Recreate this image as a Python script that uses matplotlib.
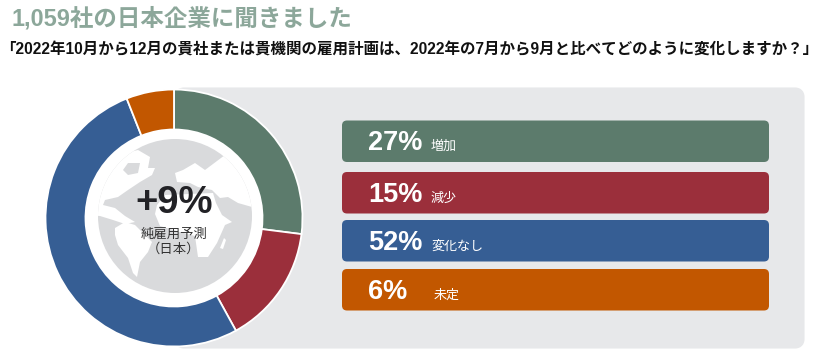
import matplotlib
matplotlib.use('Agg')
import matplotlib.pyplot as plt
from matplotlib.patches import FancyBboxPatch, Circle, Polygon

fonte = ['Liberation Sans', 'Noto Sans CJK JP', 'DejaVu Sans']
plt.rcParams['font.family'] = fonte

# dados
categorias = ['増加', '減少', '変化なし', '未定']
valores = [27, 15, 52, 6]
rotulos = ['27%', '15%', '52%', '6%']
cores = ['#5c7b6c', '#9b2f3b', '#365e94', '#c25700']

titulo = '1,059社の日本企業に聞きました'
pergunta = '「2022年10月から12月の貴社または貴機関の雇用計画は、2022年の7月から9月と比べてどのように変化しますか\uff1f」'
centro_valor = '+9%'
centro_linhas = ['純雇用予測', '\uff08日本\uff09']

W, H = 820, 355
fig = plt.figure(figsize=(W / 100, H / 100), dpi=100)

# eixo de fundo em pixels
bg = fig.add_axes([0, 0, 1, 1])
bg.set_xlim(0, W)
bg.set_ylim(H, 0)
bg.axis('off')

# painel cinza
bg.add_patch(FancyBboxPatch((180, 93), 619, 250, boxstyle='round,pad=0,rounding_size=4',
                            fc='#e7e8ea', ec='#e7e8ea', lw=8, joinstyle='round'))

# barras da legenda
topos = [120.5, 172, 220, 269]
x_cat = [431, 431, 431, 434]
for i in range(4):
    bg.add_patch(FancyBboxPatch((345, topos[i] + 3), 421, 35.5, boxstyle='round,pad=3,rounding_size=5',
                                fc=cores[i], ec='none'))
    bg.text(368, topos[i] + 23, rotulos[i], color='white', fontsize=19.5, fontweight='bold',
            va='center', ha='left')
    bg.text(x_cat[i], topos[i] + 26, categorias[i], color='white', fontsize=9.4, va='center', ha='left',
            family='Noto Sans CJK JP')

bg.text(12, 18.5, titulo, color='#8ca79a', fontsize=16.9, fontweight='bold', va='center', ha='left')
bg.text(0, 50, pergunta, color='#111111', fontsize=11.18, fontweight='bold', va='center', ha='left')

# rosca
cx, cy, R = 174, 218, 128.5
r_int = 88.5
pie_ax = fig.add_axes([(cx - R) / W, 1 - (cy + R) / H, 2 * R / W, 2 * R / H])
pie_ax.pie(valores, colors=cores, startangle=90, counterclock=False, radius=1,
           wedgeprops=dict(width=1 - r_int / R, edgecolor='white', linewidth=1.3))
pie_ax.set_xlim(-1, 1)
pie_ax.set_ylim(-1, 1)

# globo (so decoracao, contornos aproximados em pixels)
glb = fig.add_axes([(cx - R) / W, 1 - (cy + R) / H, 2 * R / W, 2 * R / H])
glb.set_xlim(cx - R, cx + R)
glb.set_ylim(cy + R, cy - R)
glb.axis('off')
glb.add_patch(Circle((cx, cy), r_int, fc='white', ec='none'))
disco = Circle((175, 216), 77, fc='#d9dadc', ec='none')
glb.add_patch(disco)

america_norte = [(88, 133), (125, 133), (125, 153), (138, 150), (150, 157), (148, 168), (155, 168),
                 (152, 175), (140, 182), (128, 190), (118, 197), (105, 200), (103, 205), (115, 208),
                 (125, 216), (135, 222), (125, 224), (113, 220), (100, 216), (88, 215)]
america_sul = [(115, 228), (125, 222), (135, 225), (145, 235), (152, 242), (148, 252), (140, 262),
               (137, 277), (133, 273), (128, 258), (118, 245), (115, 235)]
eurasia = [(175, 173), (183, 170), (195, 163), (205, 170), (225, 155), (235, 150), (268, 133),
           (268, 210), (252, 207), (238, 203), (228, 197), (220, 198), (212, 190), (198, 187),
           (190, 183), (177, 182)]
africa = [(165, 195), (213, 193), (216, 203), (222, 215), (232, 222), (225, 225), (217, 243),
          (208, 257), (198, 257), (195, 236), (180, 232), (160, 226), (155, 214), (157, 205)]
madagascar = [(224, 238), (226, 240), (223, 249), (220, 248)]
for pts in [america_norte, america_sul, eurasia, africa, madagascar]:
    p = Polygon(pts, closed=True, fc='white', ec='none')
    glb.add_patch(p)
    p.set_clip_path(disco)
# baia de Hudson
glb.add_patch(Polygon([(123, 170), (128, 163), (140, 163), (138, 173), (128, 175)], closed=True,
                      fc='#d9dadc', ec='none'))

glb.text(174, 203, centro_valor, color='#222226', fontsize=27.5, fontweight='bold', ha='center', va='center')
ys = [234, 249]
for i in range(2):
    glb.text(174, ys[i], centro_linhas[i], color='#333333', fontsize=9.6, ha='center', va='center',
             family='Noto Sans CJK JP')

fig.savefig('out.png', dpi=100)
